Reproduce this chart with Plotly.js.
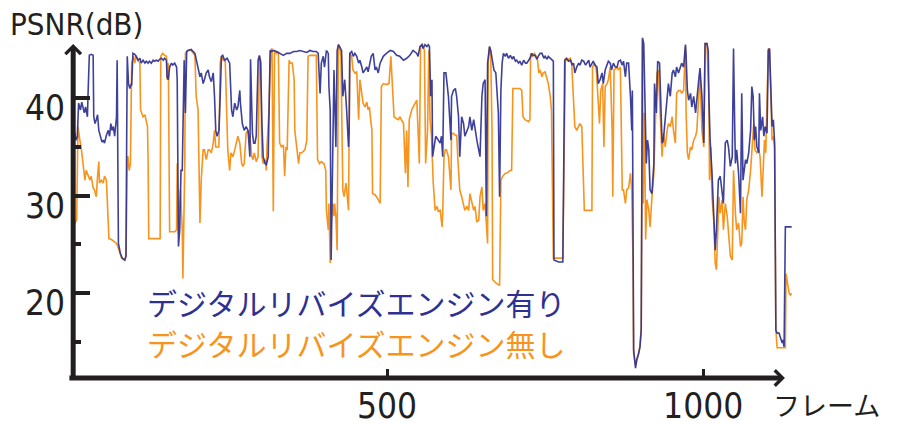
<!DOCTYPE html>
<html>
<head>
<meta charset="utf-8">
<script src="https://cdn.plot.ly/plotly-3.0.1.min.js"></script>
<style>html,body{margin:0;padding:0;background:#fff;}#chart{width:901px;height:426px;}</style>
</head>
<body>
<div id="chart"></div>
<script>
// ---- data (frame, PSNR dB) ----
const seriesNames = ["デジタルリバイズエンジン有り", "デジタルリバイズエンジン無し"];
const bluePoints = [[3,36.5],[5,36.7],[8,35.7],[10,36.1],[12,39.5],[15,38.8],[17,39.6],[19,39.0],[21,38.5],[23,39.1],[26,38.1],[27,40.5],[29,44.4],[32,44.5],[35,44.4],[36,38.1],[38,37.4],[40,37.8],[42,38.3],[44,36.7],[47,36.1],[49,35.5],[51,35.7],[53,35.4],[56,36.2],[59,36.7],[61,36.1],[63,37.4],[65,36.7],[67,37.1],[69,36.1],[72,38.1],[73,43.9],[75,25.1],[78,24.1],[81,23.6],[85,23.4],[87,23.8],[88,35.0],[89,44.3],[91,41.5],[93,41.0],[95,41.4],[96,41.4],[98,44.6],[101,44.5],[103,44.3],[106,43.9],[109,44.1],[111,43.6],[114,43.9],[117,43.6],[119,43.8],[122,43.6],[124,43.8],[127,43.6],[130,43.9],[132,43.8],[135,43.9],[138,43.8],[140,44.0],[143,44.1],[146,43.9],[148,44.1],[151,43.9],[152,42.2],[154,41.9],[156,43.2],[159,43.6],[161,43.4],[164,43.6],[167,43.2],[168,41.9],[170,24.8],[172,26.5],[174,32.6],[176,32.6],[179,43.9],[181,38.5],[183,44.8],[185,44.9],[190,45.0],[196,44.6],[198,43.9],[200,43.2],[202,42.9],[204,42.2],[206,42.6],[209,41.5],[211,41.9],[214,42.6],[217,42.9],[219,42.2],[222,41.7],[225,42.6],[227,40.2],[229,36.7],[231,36.1],[234,36.7],[236,40.2],[238,44.3],[240,44.4],[243,43.9],[247,44.1],[251,43.6],[254,38.8],[256,38.1],[259,39.5],[262,38.8],[264,39.1],[267,40.8],[268,39.5],[271,37.4],[274,36.7],[277,37.1],[280,36.7],[283,34.0],[284,44.0],[286,40.2],[287,36.4],[289,35.4],[291,35.4],[293,36.1],[296,43.9],[298,44.4],[300,43.6],[302,37.4],[304,34.0],[307,33.3],[309,33.2],[312,34.0],[315,44.9],[317,44.8],[320,44.9],[325,44.8],[330,44.6],[336,44.4],[341,44.6],[346,44.6],[352,44.8],[357,44.8],[362,44.9],[367,44.8],[373,44.7],[378,44.9],[383,44.8],[388,44.8],[391,44.6],[394,40.5],[396,43.6],[399,44.3],[401,43.2],[404,44.9],[407,44.6],[408,41.2],[410,38.8],[411.5,23.4],[414,36.7],[416,42.9],[419,35.0],[421,44.9],[423,45.5],[425,45.3],[428,44.9],[430,40.2],[433,41.9],[436,38.8],[439,35.0],[440,36.7],[441,44.6],[444,44.8],[446.5,44.3],[449,44.6],[452,44.3],[455,43.6],[457,43.9],[460,43.2],[462,42.6],[465,42.9],[468,43.2],[470,42.7],[473,43.6],[475,44.3],[478,44.6],[481,42.9],[483,43.2],[486,42.6],[489,43.6],[491,43.9],[494,44.3],[499,44.6],[505,44.9],[510,44.8],[515,44.4],[520,44.3],[526,43.9],[531,44.1],[536,44.4],[541,44.9],[547,44.6],[549,44.3],[552,45.3],[555,45.5],[557,45.1],[560,45.5],[563,45.3],[565,45.5],[567,45.3],[569,40.2],[571,41.9],[572,34.0],[574,35.0],[577,36.1],[581,35.7],[584,35.4],[586,36.1],[588,34.0],[590,42.6],[593,42.6],[597,40.2],[599,38.1],[601,35.7],[602,40.2],[605,40.8],[608,41.0],[610,40.2],[613,38.1],[615,34.0],[618,38.1],[621,37.4],[623,36.1],[626,36.7],[629,37.1],[631,38.1],[634,36.7],[637,37.8],[639,36.7],[642,35.7],[644,35.0],[647,34.0],[650,40.2],[652,41.5],[655,41.9],[657,27.9],[659,43.6],[662,45.3],[664,44.9],[667,43.6],[669,42.9],[672,42.6],[675,40.2],[676,38.5],[678,29.9],[680,40.8],[682,43.6],[684,44.6],[687,44.3],[689,44.6],[692,44.1],[695,44.4],[698,44.0],[700,44.3],[703,43.8],[705,43.9],[708,43.6],[710,43.8],[713,43.4],[716,43.9],[719,43.6],[721,43.6],[724,43.9],[726,44.1],[729,44.6],[731,44.4],[734,44.4],[737,44.0],[739,44.3],[742,44.6],[745,44.6],[748,44.1],[750,44.3],[753,44.0],[755,44.3],[758,44.1],[760,43.9],[763,43.8],[764,23.4],[771,23.2],[778,23.2],[779,28.9],[781,43.9],[784,44.1],[787,43.8],[790,43.9],[793,43.4],[795,43.6],[797,42.6],[800,43.2],[803,43.6],[805,43.4],[808,43.9],[811,43.8],[814,43.4],[816,43.6],[819,43.9],[821,43.2],[824,43.6],[826,43.8],[829,43.4],[832,43.2],[834,41.5],[837,41.9],[840,42.6],[842,41.5],[845,42.9],[847,43.2],[850,43.8],[853,43.6],[855,42.9],[858,43.6],[861,43.2],[864,43.2],[866,43.8],[869,43.9],[872,43.4],[874,43.8],[877,42.2],[879,43.6],[882,43.6],[885,40.2],[887,36.7],[888,40.8],[890,14.2],[893,12.3],[895,13.2],[898,13.8],[900,14.5],[902,16.2],[904,46.2],[906,45.6],[908,40.2],[910,33.3],[912,35.7],[914,34.7],[916,30.6],[919,30.2],[922,33.3],[923,41.5],[926,38.5],[928,43.8],[931,43.6],[933,40.2],[935,35.4],[937,35.7],[940,37.8],[943,40.2],[945,41.5],[948,40.2],[951,42.6],[953,42.9],[956,42.2],[958,43.2],[961,42.6],[964,43.2],[966,43.6],[969,43.2],[972,45.5],[973,44.3],[975,40.8],[977,39.8],[980,40.5],[982,39.1],[985,40.2],[988,38.5],[990,40.2],[993,41.9],[995,43.1],[998,40.2],[1001,35.4],[1003,45.6],[1006,45.6],[1008,44.9],[1009,40.2],[1011,35.7],[1014,32.3],[1017,26.5],[1019,24.4],[1021,26.5],[1022,27.9],[1024,31.6],[1027,32.0],[1030,29.9],[1032,29.2],[1035,35.4],[1038,35.7],[1040,35.0],[1043,33.0],[1046,34.0],[1048,45.1],[1050,36.7],[1051,33.3],[1053,34.7],[1056,32.3],[1059,28.2],[1061,40.5],[1063,31.6],[1065,32.6],[1067,33.7],[1069,33.3],[1072,34.4],[1075,36.7],[1077,41.2],[1079,40.2],[1081,35.7],[1083,37.1],[1085,35.0],[1088,34.4],[1089,40.5],[1091,36.7],[1094,38.1],[1096,36.1],[1098,37.1],[1101,36.4],[1103,44.9],[1105,45.1],[1107,40.8],[1109,37.1],[1111,37.8],[1113,35.4],[1115,16.2],[1117,15.9],[1120,15.9],[1122,15.5],[1125,14.9],[1126,15.2],[1128,14.5],[1130,26.8],[1140,26.8]];
const orangePoints = [[3,27.5],[6,27.2],[9,27.5],[11,37.1],[14,35.7],[16,35.0],[19,33.3],[22,31.6],[24,32.6],[27,32.0],[30,31.6],[32,32.0],[35,30.8],[37,30.6],[40,29.9],[42,32.0],[44,33.5],[45,31.3],[48,31.6],[51,31.3],[53,32.0],[56,31.6],[58,29.2],[60,25.6],[64,25.5],[69,25.3],[72,25.1],[74,24.8],[76,24.4],[80,23.6],[85,23.4],[87,23.8],[89,34.0],[90,34.0],[92,32.6],[94,33.3],[96,43.6],[99,44.3],[101,43.6],[103,44.4],[106,43.9],[109,43.6],[110,38.8],[112,38.5],[114,38.1],[117,38.3],[119,37.8],[121,37.1],[122,33.3],[123,25.6],[130,25.6],[137,25.6],[141,25.6],[142,44.3],[145,44.6],[148,44.4],[151,44.3],[152,41.9],[154,43.6],[156,26.3],[160,26.3],[164,26.3],[167,26.5],[168,33.3],[170,26.1],[173,30.6],[176,26.5],[177,21.5],[180,33.3],[181,44.6],[185,44.9],[190,44.9],[196,44.4],[198,40.2],[201,38.8],[204,27.2],[206,31.6],[209,34.7],[211,34.7],[214,33.7],[217,34.7],[219,34.7],[222,34.4],[225,35.4],[227,36.7],[229,35.0],[231,35.0],[234,35.0],[236,43.6],[238,44.3],[241,43.9],[244,43.8],[248,34.7],[251,32.6],[253,34.4],[256,34.0],[259,34.7],[261,35.4],[264,36.1],[267,35.4],[270,33.3],[272,33.0],[274,33.3],[277,36.4],[280,36.7],[283,36.1],[286,34.0],[288,33.7],[290,34.4],[293,33.5],[296,34.0],[298,44.3],[300,43.9],[302,34.0],[304,33.3],[307,33.7],[309,32.6],[310,35.0],[313,38.5],[316,44.9],[318,45.1],[320,28.4],[322,44.9],[325,44.6],[328,44.8],[330,35.4],[333,35.0],[336,35.2],[338,32.0],[340,35.0],[342,34.7],[345,43.9],[347,43.6],[350,43.6],[353,41.9],[354,36.7],[357,34.7],[360,33.3],[362,34.4],[365,34.4],[370,34.7],[373,35.7],[375,44.3],[378,44.4],[383,44.4],[388,44.4],[390,33.7],[393,33.3],[396,33.5],[400,33.3],[403,32.6],[404,28.5],[407,26.5],[408,29.2],[410,23.1],[411,26.5],[414,29.2],[416,27.9],[417,29.2],[419,27.9],[421,24.4],[423,45.5],[425,45.3],[427,44.3],[430,30.6],[432,29.9],[435,31.3],[437,29.9],[439,28.5],[441,44.6],[444,44.3],[446,42.9],[449,42.6],[452,42.7],[453,41.5],[455,37.8],[457,41.9],[460,40.2],[462,39.5],[465,39.1],[468,39.6],[470,38.8],[472,39.1],[474,37.8],[476,36.7],[477,30.2],[481,30.1],[486,29.6],[489,29.2],[491,41.2],[494,41.5],[499,41.4],[503,41.5],[506,44.3],[509,40.2],[511,38.1],[515,37.9],[518,37.8],[520,38.1],[523,37.8],[526,37.4],[527,35.7],[529,32.3],[531,36.7],[533,30.9],[535,37.8],[537,38.5],[539,38.8],[541,39.1],[544,39.5],[547,39.8],[549,36.7],[551,33.3],[553,45.3],[556,45.5],[559,44.9],[561,33.3],[564,36.7],[566,44.9],[568,37.8],[570,36.4],[573,31.3],[576,28.5],[579,28.9],[581,28.4],[584,28.5],[587,26.8],[588,28.2],[590,34.0],[592,34.7],[594,34.7],[597,34.0],[599,32.3],[601,30.6],[602,36.4],[605,36.4],[608,36.2],[610,36.2],[613,32.6],[615,30.6],[618,29.9],[621,29.2],[623,28.5],[626,28.9],[629,28.5],[631,30.2],[634,29.2],[637,28.5],[639,28.9],[642,27.3],[645,27.5],[647,29.9],[650,30.9],[652,28.5],[655,29.2],[657,27.2],[659,25.1],[660,43.6],[662,45.3],[664,44.3],[666,36.7],[667,21.4],[673,21.0],[678,20.8],[680,31.6],[683,32.0],[687,32.3],[689,32.3],[695,32.6],[697,32.6],[699,41.0],[705,41.0],[710,41.0],[713,40.8],[715,38.1],[718,37.8],[724,37.6],[726,37.8],[727,44.6],[730,44.3],[733,44.6],[736,44.3],[738,43.9],[740,42.6],[742,42.9],[745,42.2],[747,42.6],[750,42.7],[752,42.2],[755,41.5],[758,40.2],[760,38.8],[763,23.6],[771,23.6],[778,23.6],[779,28.9],[782,44.1],[784,43.9],[790,44.1],[792,43.6],[795,40.2],[797,37.1],[800,36.7],[803,37.1],[805,37.4],[808,37.1],[810,33.3],[812,28.5],[816,28.5],[821,28.5],[824,28.5],[825,43.2],[828,43.6],[831,42.9],[833,40.8],[836,37.4],[838,40.8],[841,41.5],[843,35.0],[845,41.2],[848,41.5],[850,41.9],[853,43.2],[856,36.7],[857,29.9],[859,42.9],[864,43.2],[866,42.9],[869,43.2],[870,36.7],[872,30.6],[874,30.6],[877,29.2],[879,30.6],[882,30.8],[885,32.3],[887,30.6],[889,23.1],[890,13.8],[893,12.6],[895,13.2],[898,13.8],[900,14.5],[902,16.5],[904,46.0],[905,29.2],[907,38.5],[909,25.5],[911,29.6],[914,28.5],[916,26.8],[919,29.9],[922,32.3],[924,36.7],[927,42.6],[929,42.9],[932,39.1],[935,34.0],[937,36.4],[940,35.0],[943,36.7],[945,37.4],[948,37.1],[951,38.1],[953,36.7],[956,35.4],[958,40.5],[961,40.8],[964,40.8],[966,40.5],[969,40.8],[972,45.3],[973,38.5],[975,34.4],[977,33.7],[980,35.0],[982,34.7],[985,35.7],[988,36.1],[990,36.7],[993,40.2],[995,42.6],[998,36.7],[1001,35.0],[1003,45.6],[1006,45.6],[1009,40.2],[1010,31.6],[1012,35.0],[1014,29.9],[1017,27.2],[1019,23.1],[1021,22.4],[1023,25.8],[1025,29.9],[1027,28.2],[1030,29.6],[1032,26.5],[1035,29.2],[1038,27.9],[1040,26.5],[1043,23.8],[1046,23.4],[1048,32.6],[1051,28.2],[1053,26.5],[1056,27.2],[1059,24.8],[1061,25.1],[1063,29.9],[1065,27.2],[1067,26.5],[1069,29.6],[1072,30.6],[1075,32.6],[1077,34.7],[1080,37.4],[1082,34.7],[1085,34.4],[1088,34.7],[1090,34.0],[1093,29.9],[1095,33.3],[1097,35.7],[1099,34.4],[1101,41.9],[1103,45.1],[1105,44.9],[1107,40.2],[1109,35.7],[1111,36.1],[1113,35.0],[1115,16.2],[1117,14.4],[1122,14.4],[1127,14.4],[1130,14.4],[1131,22.0],[1134,21.0],[1136,20.0],[1138,19.8],[1140,20.0]];
const xTickVals = [500, 1000];
const xTickText = ["500", "1000"];
const yTickVals = [20, 30, 40];
const yTickText = ["20", "30", "40"];
const yMinorTickVals = [15, 25, 35];
const yTitle = "PSNR(dB)";
const xTitle = "フレーム";

// ---- styling ----
const BLUE = "#2e3192", ORANGE = "#f7941d", INK = "#231f20";
const numFont = "Liberation Sans Narrow, DejaVu Sans Condensed, Open Sans, sans-serif";
const cjkFont = "Noto Sans CJK JP, Noto Sans CJK SC, sans-serif";

const traces = [
  {x: orangePoints.map(p => p[0]), y: orangePoints.map(p => p[1]), name: seriesNames[1],
   type: "scatter", mode: "lines", line: {color: ORANGE, width: 1.6}},
  {x: bluePoints.map(p => p[0]), y: bluePoints.map(p => p[1]), name: seriesNames[0],
   type: "scatter", mode: "lines", line: {color: BLUE, width: 1.6}, opacity: 0.92}
];

const layout = {
  width: 901, height: 426,
  margin: {l: 71, r: 103, t: 30, b: 48, pad: 0},
  paper_bgcolor: "#ffffff", plot_bgcolor: "#ffffff",
  showlegend: false,
  xaxis: {
    range: [0, 1150], showgrid: false, zeroline: false, showline: false,
    tickmode: "array", tickvals: xTickVals, ticktext: xTickText,
    ticks: "inside", ticklen: 9, tickwidth: 3, tickcolor: INK,
    tickfont: {family: numFont, size: 35, color: INK}, ticklabelstandoff: 4
  },
  yaxis: {
    range: [11.3, 47], showgrid: false, zeroline: false, showline: false,
    tickmode: "array", tickvals: yTickVals, ticktext: yTickText,
    ticks: "inside", ticklen: 19, tickwidth: 4, tickcolor: INK,
    tickfont: {family: numFont, size: 35, color: INK},
    ticklabelshift: 10, ticklabelstandoff: 5,
    minor: {tickmode: "array", tickvals: yMinorTickVals, ticks: "inside", ticklen: 10, tickwidth: 4, tickcolor: INK, showgrid: false}
  },
  annotations: [
    {xref: "paper", yref: "paper", x: 0.003, y: 0.96, axref: "pixel", ayref: "pixel", ax: 0, ay: 336,
     showarrow: true, arrowhead: 4, arrowsize: 0.6, arrowwidth: 5, arrowcolor: INK, text: "", standoff: 0},
    {xref: "paper", yref: "paper", x: 0.982, y: 0, axref: "pixel", ayref: "pixel", ax: -717, ay: 0,
     showarrow: true, arrowhead: 4, arrowsize: 0.6, arrowwidth: 5, arrowcolor: INK, text: "", standoff: 0},
    {xref: "paper", yref: "paper", x: -0.086, y: 1.017, xanchor: "left", yanchor: "middle", showarrow: false,
     text: yTitle, font: {family: numFont, size: 31, color: INK}},
    {xref: "paper", yref: "paper", x: 0.963, y: -0.075, xanchor: "left", yanchor: "middle", showarrow: false,
     text: xTitle, font: {family: cjkFont, size: 27, color: INK}},
    {xref: "paper", yref: "paper", x: 0.102, y: 0.218, xanchor: "left", yanchor: "middle", showarrow: false,
     text: seriesNames[0], font: {family: cjkFont, size: 30, color: BLUE}},
    {xref: "paper", yref: "paper", x: 0.102, y: 0.100, xanchor: "left", yanchor: "middle", showarrow: false,
     text: seriesNames[1], font: {family: cjkFont, size: 30, color: ORANGE}}
  ]
};

Plotly.newPlot("chart", traces, layout, {staticPlot: true, displayModeBar: false});
</script>
</body>
</html>
